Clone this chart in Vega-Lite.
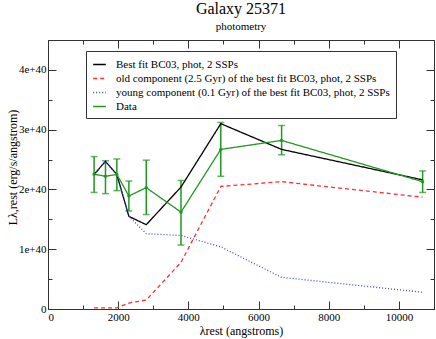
{
  "$schema": "https://vega.github.io/schema/vega-lite/v6.json",
  "width": 386,
  "height": 269,
  "autosize": {"type": "none"},
  "padding": {"left": 48, "top": 40, "right": 2, "bottom": 30},
  "background": "white",
  "title": {
    "text": "Galaxy 25371",
    "subtitle": "photometry",
    "font": "Liberation Serif",
    "subtitleFont": "Liberation Serif",
    "fontSize": 16,
    "subtitleFontSize": 11,
    "fontWeight": "normal",
    "color": "black",
    "subtitleColor": "black",
    "anchor": "middle",
    "offset": 8,
    "subtitlePadding": 4
  },
  "config": {
    "font": "Liberation Serif",
    "view": {"stroke": "#333"},
    "axis": {
      "domainColor": "#333",
      "tickColor": "#333",
      "labelFont": "Liberation Serif",
      "labelFontSize": 11,
      "labelColor": "black",
      "titleFont": "Liberation Serif",
      "titleFontSize": 12,
      "titleFontWeight": "normal",
      "titleColor": "black",
      "grid": false
    },
    "legend": {"labelFont": "Liberation Serif", "titleFont": "Liberation Serif"}
  },
  "data": {
    "values": [
      {"series": "Best fit BC03, phot, 2 SSPs", "wl": 1314, "L": 2.25e40},
      {"series": "Best fit BC03, phot, 2 SSPs", "wl": 1638, "L": 2.47e40},
      {"series": "Best fit BC03, phot, 2 SSPs", "wl": 1962, "L": 2.25e40},
      {"series": "Best fit BC03, phot, 2 SSPs", "wl": 2305, "L": 1.55e40},
      {"series": "Best fit BC03, phot, 2 SSPs", "wl": 2800, "L": 1.41e40},
      {"series": "Best fit BC03, phot, 2 SSPs", "wl": 3790, "L": 2.04e40},
      {"series": "Best fit BC03, phot, 2 SSPs", "wl": 4924, "L": 3.10e40},
      {"series": "Best fit BC03, phot, 2 SSPs", "wl": 6657, "L": 2.67e40},
      {"series": "Best fit BC03, phot, 2 SSPs", "wl": 10676, "L": 2.16e40},
      {"series": "old component (2.5 Gyr) of the best fit BC03, phot, 2 SSPs", "wl": 1314, "L": 0.02e40},
      {"series": "old component (2.5 Gyr) of the best fit BC03, phot, 2 SSPs", "wl": 1638, "L": 0.02e40},
      {"series": "old component (2.5 Gyr) of the best fit BC03, phot, 2 SSPs", "wl": 1962, "L": 0.02e40},
      {"series": "old component (2.5 Gyr) of the best fit BC03, phot, 2 SSPs", "wl": 2305, "L": 0.10e40},
      {"series": "old component (2.5 Gyr) of the best fit BC03, phot, 2 SSPs", "wl": 2800, "L": 0.15e40},
      {"series": "old component (2.5 Gyr) of the best fit BC03, phot, 2 SSPs", "wl": 3790, "L": 0.78e40},
      {"series": "old component (2.5 Gyr) of the best fit BC03, phot, 2 SSPs", "wl": 4924, "L": 2.05e40},
      {"series": "old component (2.5 Gyr) of the best fit BC03, phot, 2 SSPs", "wl": 6657, "L": 2.13e40},
      {"series": "old component (2.5 Gyr) of the best fit BC03, phot, 2 SSPs", "wl": 10676, "L": 1.87e40},
      {"series": "young component (0.1 Gyr) of the best fit BC03, phot, 2 SSPs", "wl": 1314, "L": 2.25e40},
      {"series": "young component (0.1 Gyr) of the best fit BC03, phot, 2 SSPs", "wl": 1638, "L": 2.47e40},
      {"series": "young component (0.1 Gyr) of the best fit BC03, phot, 2 SSPs", "wl": 1962, "L": 2.24e40},
      {"series": "young component (0.1 Gyr) of the best fit BC03, phot, 2 SSPs", "wl": 2305, "L": 1.55e40},
      {"series": "young component (0.1 Gyr) of the best fit BC03, phot, 2 SSPs", "wl": 2800, "L": 1.26e40},
      {"series": "young component (0.1 Gyr) of the best fit BC03, phot, 2 SSPs", "wl": 3790, "L": 1.23e40},
      {"series": "young component (0.1 Gyr) of the best fit BC03, phot, 2 SSPs", "wl": 4924, "L": 1.04e40},
      {"series": "young component (0.1 Gyr) of the best fit BC03, phot, 2 SSPs", "wl": 6657, "L": 0.53e40},
      {"series": "young component (0.1 Gyr) of the best fit BC03, phot, 2 SSPs", "wl": 10676, "L": 0.28e40},
      {"series": "Data", "wl": 1314, "L": 2.255e40, "lo": 1.95e40, "hi": 2.55e40},
      {"series": "Data", "wl": 1638, "L": 2.22e40, "lo": 1.93e40, "hi": 2.48e40},
      {"series": "Data", "wl": 1962, "L": 2.25e40, "lo": 1.98e40, "hi": 2.51e40},
      {"series": "Data", "wl": 2305, "L": 1.89e40, "lo": 1.64e40, "hi": 2.14e40},
      {"series": "Data", "wl": 2800, "L": 2.03e40, "lo": 1.58e40, "hi": 2.49e40},
      {"series": "Data", "wl": 3790, "L": 1.62e40, "lo": 1.07e40, "hi": 2.15e40},
      {"series": "Data", "wl": 4924, "L": 2.67e40, "lo": 2.22e40, "hi": 3.12e40},
      {"series": "Data", "wl": 6657, "L": 2.82e40, "lo": 2.58e40, "hi": 3.07e40},
      {"series": "Data", "wl": 10676, "L": 2.13e40, "lo": 1.95e40, "hi": 2.31e40}
    ]
  },
  "resolve": {"axis": {"x": "independent", "y": "independent"}},
  "layer": [
    {
      "transform": [{"filter": "datum.series === 'Data'"}],
      "mark": {"type": "errorbar", "ticks": true, "color": "#1f9a1f", "thickness": 1.5, "size": 7},
      "encoding": {
        "x": {"field": "wl", "type": "quantitative", "scale": {"domain": [0, 11000], "nice": false}, "axis": null},
        "y": {"field": "lo", "type": "quantitative", "scale": {"domain": [0, 4.5e40], "nice": false}, "axis": null},
        "y2": {"field": "hi"}
      }
    },
    {
      "mark": {"type": "line", "strokeWidth": 1.3},
      "encoding": {
        "x": {
          "field": "wl", "type": "quantitative",
          "scale": {"domain": [0, 11000], "nice": false},
          "title": "λrest (angstroms)",
          "axis": {
            "orient": "bottom",
            "values": [0, 1000, 2000, 3000, 4000, 5000, 6000, 7000, 8000, 9000, 10000],
            "tickSize": {"condition": {"test": "datum.value % 2000 === 0", "value": -8}, "value": -4},
            "labelExpr": "datum.value % 2000 === 0 ? datum.label : ''",
            "format": "d",
            "labelFont": "Liberation Serif",
            "titleFont": "Liberation Serif",
            "labelPadding": 10,
            "titlePadding": 3
          }
        },
        "y": {
          "field": "L", "type": "quantitative",
          "scale": {"domain": [0, 4.5e40], "nice": false},
          "title": "Lλ,rest (erg/s/angstrom)",
          "axis": {
            "orient": "left",
            "values": [0, 0.5e40, 1e40, 1.5e40, 2e40, 2.5e40, 3e40, 3.5e40, 4e40],
            "tickSize": {"condition": {"test": "round(datum.value / 5e39) % 2 === 0", "value": -8}, "value": -4},
            "labelExpr": "datum.value === 0 ? '0' : (round(datum.value / 5e39) % 2 === 0 ? round(datum.value / 1e40) + 'e+40' : '')",
            "labelFont": "Liberation Serif",
            "titleFont": "Liberation Serif",
            "labelPadding": 10,
            "titleX": -36,
            "titleY": 127,
            "titleBaseline": "middle",
            "titleAlign": "center",
            "titleAngle": -90
          }
        },
        "color": {
          "field": "series", "type": "nominal",
          "scale": {
            "domain": ["Best fit BC03, phot, 2 SSPs", "old component (2.5 Gyr) of the best fit BC03, phot, 2 SSPs", "young component (0.1 Gyr) of the best fit BC03, phot, 2 SSPs", "Data"],
            "range": ["#000000", "#ff3030", "#4040ff", "#1f9a1f"]
          },
          "legend": {
            "title": null,
            "orient": "none",
            "legendX": 38,
            "legendY": 11,
            "strokeColor": "#333",
            "fillColor": "white",
            "padding": 6,
            "cornerRadius": 0,
            "labelFont": "Liberation Serif",
            "labelFontSize": 11,
            "labelColor": "black",
            "labelLimit": 400,
            "labelOffset": 9,
            "symbolType": "stroke",
            "symbolSize": 160,
            "symbolStrokeWidth": 1.5,
            "rowPadding": 1
          }
        },
        "strokeDash": {
          "field": "series", "type": "nominal",
          "scale": {
            "domain": ["Best fit BC03, phot, 2 SSPs", "old component (2.5 Gyr) of the best fit BC03, phot, 2 SSPs", "young component (0.1 Gyr) of the best fit BC03, phot, 2 SSPs", "Data"],
            "range": [[1, 0], [4, 3], [1, 2], [1, 0]]
          },
          "legend": null
        }
      }
    },
    {
      "transform": [{"filter": "datum.series === 'Data'"}],
      "mark": {"type": "point", "filled": true, "size": 12, "color": "#1f9a1f", "opacity": 1},
      "encoding": {
        "x": {
          "field": "wl", "type": "quantitative",
          "scale": {"domain": [0, 11000], "nice": false},
          "axis": {
            "orient": "top",
            "values": [0, 1000, 2000, 3000, 4000, 5000, 6000, 7000, 8000, 9000, 10000],
            "tickSize": {"condition": {"test": "datum.value % 2000 === 0", "value": -8}, "value": -4},
            "labels": false,
            "title": null
          }
        },
        "y": {
          "field": "L", "type": "quantitative",
          "scale": {"domain": [0, 4.5e40], "nice": false},
          "axis": {
            "orient": "right",
            "values": [0, 0.5e40, 1e40, 1.5e40, 2e40, 2.5e40, 3e40, 3.5e40, 4e40],
            "tickSize": {"condition": {"test": "round(datum.value / 5e39) % 2 === 0", "value": -8}, "value": -4},
            "labels": false,
            "title": null
          }
        }
      }
    }
  ]
}
